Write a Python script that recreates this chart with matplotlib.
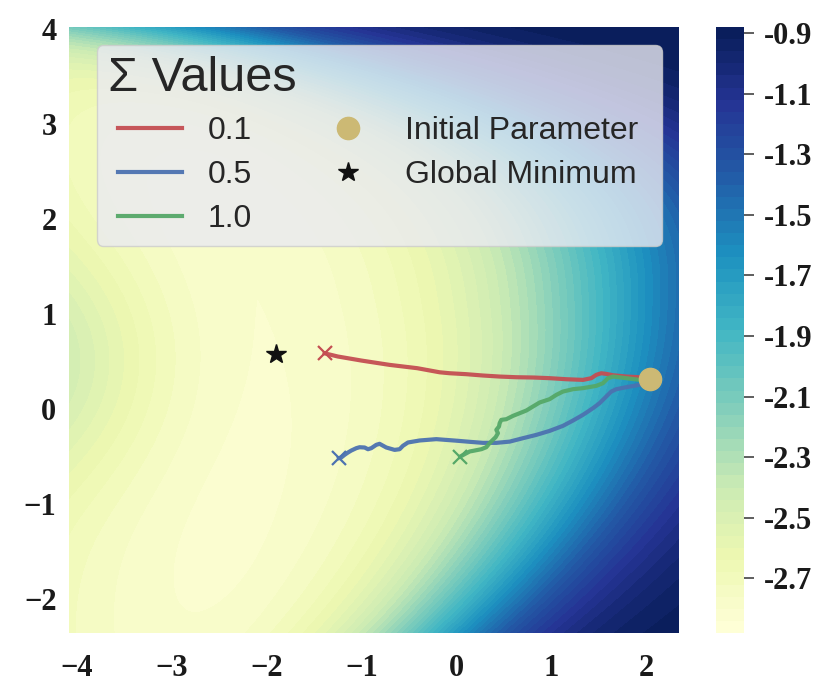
import numpy as np
import matplotlib.pyplot as plt
from matplotlib.offsetbox import HPacker, DrawingArea

# --- trajectories: initial parameter -> final point ---
red_x = [2.04, 1.926, 1.786, 1.646, 1.575, 1.523, 1.470, 1.418, 1.330, 1.154, 0.979,
         0.804, 0.628, 0.453, 0.277, 0.102, -0.074, -0.179, -0.414, -0.706, -0.999,
         -1.25, -1.39]
red_y = [0.316, 0.333, 0.340, 0.354, 0.368, 0.375, 0.358, 0.323, 0.305, 0.312, 0.323,
         0.330, 0.333, 0.340, 0.351, 0.365, 0.375, 0.385, 0.428, 0.463, 0.508,
         0.551, 0.585]

blue_x = [2.04, 1.926, 1.786, 1.681, 1.628, 1.575, 1.505, 1.435, 1.330, 1.225, 1.119,
          0.979, 0.839, 0.698, 0.558, 0.418, 0.277, 0.137, -0.004, -0.214, -0.389,
          -0.512, -0.565, -0.600, -0.653, -0.740, -0.811, -0.846, -0.898, -0.933,
          -0.968, -1.021, -1.056, -1.109, -1.144, -1.179, -1.214, -1.239]
blue_y = [0.316, 0.253, 0.228, 0.207, 0.182, 0.130, 0.060, 0.007, -0.063, -0.123, -0.179,
          -0.232, -0.274, -0.309, -0.345, -0.358, -0.358, -0.347, -0.335, -0.319, -0.333,
          -0.354, -0.389, -0.425, -0.432, -0.407, -0.368, -0.379, -0.414, -0.425,
          -0.407, -0.404, -0.414, -0.439, -0.460, -0.484, -0.512, -0.519]

green_x = [2.04, 1.926, 1.786, 1.646, 1.593, 1.540, 1.470, 1.330, 1.225, 1.119, 1.049,
           0.979, 0.874, 0.804, 0.733, 0.663, 0.593, 0.523, 0.470, 0.453, 0.446, 0.418,
           0.435, 0.411, 0.382, 0.347, 0.312, 0.260, 0.189, 0.137, 0.084, 0.039]
green_y = [0.316, 0.305, 0.323, 0.340, 0.323, 0.270, 0.242, 0.218, 0.207, 0.182, 0.147,
           0.102, 0.067, 0.025, -0.018, -0.046, -0.074, -0.109, -0.116, -0.151, -0.186,
           -0.221, -0.256, -0.298, -0.326, -0.361, -0.404, -0.425, -0.439, -0.449,
           -0.477, -0.502]

sigmas = ['0.1', '0.5', '1.0']
init_point = (2.04, 0.316)
global_min = (-1.905, 0.58)
cbar_ticks = [-2.7, -2.5, -2.3, -2.1, -1.9, -1.7, -1.5, -1.3, -1.1, -0.9]

# --- loss surface (log scale), shaped to match the background ---
xs = np.linspace(-4.08, 2.34, 400)
ys = np.linspace(-2.36, 4.02, 400)
X, Y = np.meshgrid(xs, ys)

ridge = np.where(Y < 1, 1.6 - 0.16 * (Y - 1) ** 2, 1.6 - 0.174 * (Y - 1) ** 3)
scale = 1 + 0.09 * Y
T = (X - ridge) / scale
Z = -2.85 + 2.0 / (1 + np.exp(-1.2 * T))
Z += 0.3 * np.exp(-((X + 4.6) / 1.5) ** 2 - ((Y - 0.5) / 1.3) ** 2)
Z += np.where(X < -2, 0.03 * (X + 2) ** 2, 0)
levels = np.linspace(-2.88, -0.88, 51)
Z = np.clip(Z, -2.879, -0.881)

c_red, c_blue, c_green = '#C44E52', '#4C72B0', '#55A868'
c_init = '#CCB974'

fig = plt.figure(figsize=(8.3, 6.98), dpi=100)
ax = fig.add_axes([0.0831, 0.0931, 0.7349, 0.8682])
cax = fig.add_axes([0.8627, 0.0931, 0.0337, 0.8682])

cs = ax.contourf(X, Y, Z, levels=levels, cmap='YlGnBu')

for px, py, col, lab in zip([red_x, blue_x, green_x], [red_y, blue_y, green_y],
                            [c_red, c_blue, c_green], sigmas):
    ax.plot(px, py, color=col, lw=3.0, alpha=0.95, label=lab, zorder=3)
    ax.plot(px[-1], py[-1], marker='x', color=col, ms=10, mew=1.6, zorder=4)

ax.plot(*init_point, 'o', color=c_init, ms=16, zorder=5, ls='none', label='Initial Parameter')
ax.plot(*global_min, '*', color='#111111', ms=15, zorder=5, ls='none', label='Global Minimum')

ax.set_xlim(-4.08, 2.34)
ax.set_ylim(-2.36, 4.02)
ax.set_xticks([-4, -3, -2, -1, 0, 1, 2])
ax.set_yticks([-2, -1, 0, 1, 2, 3, 4])
for s in ax.spines.values():
    s.set_visible(False)
ax.tick_params(length=0, labelsize=22)
ax.tick_params(axis='x', pad=15)
ax.tick_params(axis='y', pad=9)
for lbl in ax.get_xticklabels() + ax.get_yticklabels():
    lbl.set_fontfamily('Liberation Serif')
    lbl.set_fontweight('bold')
    lbl.set_color('#1a1a1a')

leg = ax.legend(title='Σ Values', ncol=2, loc='upper left', bbox_to_anchor=(0.046, 0.970),
                borderaxespad=0, prop={'family': 'Liberation Sans', 'size': 23},
                title_fontproperties={'family': 'Liberation Sans', 'size': 35},
                facecolor='#EAEAF2', framealpha=0.8, edgecolor='0.8', fancybox=True,
                borderpad=0.35, labelspacing=0.45, columnspacing=2.0, handletextpad=0.8)
leg._legend_box.align = 'left'
# entries sit a little further in from the frame than the title
wrap = HPacker(pad=0, sep=0, align='top',
               children=[DrawingArea(7.2, 0), leg._legend_handle_box, DrawingArea(8.6, 0)])
leg._legend_box._children[1] = wrap
wrap.set_figure(fig)
for t in leg.get_texts():
    t.set_color('#262626')
leg.get_title().set_color('#262626')

cbar = fig.colorbar(cs, cax=cax, ticks=cbar_ticks, format='%.1f')
cbar.outline.set_visible(False)
cbar.ax.tick_params(length=7, width=1.1, color='#333333', pad=7, labelsize=22)
for lbl in cbar.ax.get_yticklabels():
    lbl.set_fontfamily('Liberation Serif')
    lbl.set_fontweight('bold')
    lbl.set_color('#1a1a1a')

fig.savefig('out.png', dpi=100)
